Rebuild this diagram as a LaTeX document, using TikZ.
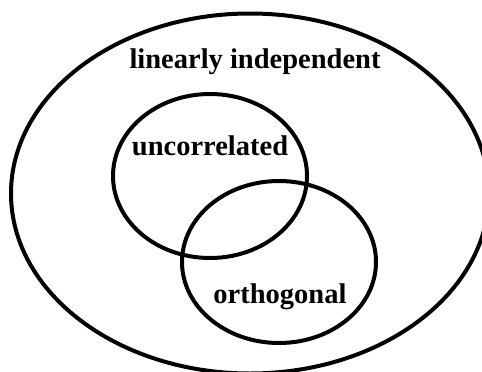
\documentclass[tikz,border=0pt]{standalone}
\usepackage{fontspec}
\setmainfont{Liberation Serif}
\begin{document}
\begin{tikzpicture}[x=1pt,y=-1pt,
  setline/.style={draw=black,line width=4pt},
  lbl/.style={anchor=base,inner sep=0pt,font=\fontsize{28.5}{34}\selectfont\bfseries}]
\useasboundingbox (0,0) rectangle (482,372);
\fill[white] (0,0) rectangle (482,372);
\draw[setline] (250,193.5) ellipse [x radius=239,y radius=180];
\draw[setline] (210,176) ellipse [x radius=97,y radius=82];
\draw[setline] (279,262) ellipse [x radius=97,y radius=81];
\node[lbl] (li) at (255,68) {linearly independent};
\node[lbl] (un) at (210,155) {uncorrelated};
\node[lbl] (or) at (280,303) {orthogonal};
\end{tikzpicture}
\end{document}
